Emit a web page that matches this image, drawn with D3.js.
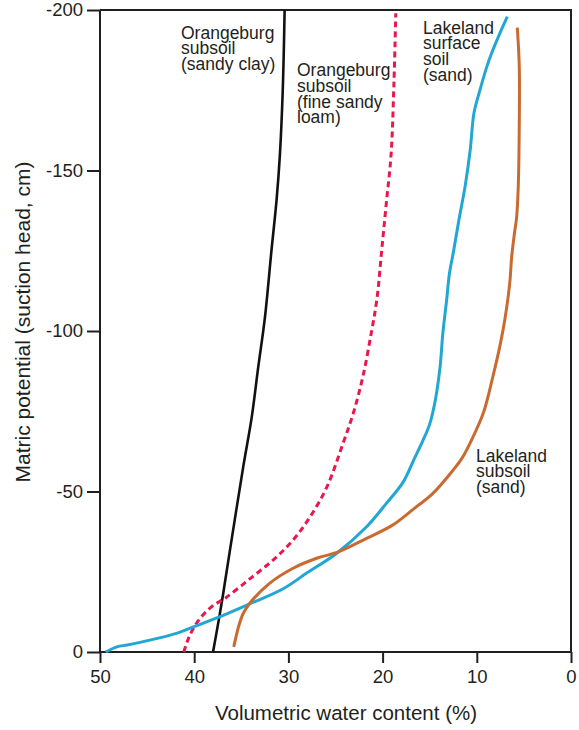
<!DOCTYPE html>
<html>
<head>
<meta charset="utf-8">
<script src="https://cdn.jsdelivr.net/npm/d3@7"></script>
<style>
  html, body { margin: 0; padding: 0; background: #fff; }
  svg { display: block; }
  text { font-family: "Liberation Sans", Arial, sans-serif; fill: #231f20; }
</style>
</head>
<body>
<div id="chart"></div>
<script>
// ---- Data (x = volumetric water content %, y = matric potential cm) ----
const xTicks = [50, 40, 30, 20, 10, 0];
const yTicks = [0, -50, -100, -150, -200];

const orangeburgClay = [
  [38.0, 0], [37.1, -15], [36.2, -31.8], [34.8, -57.6], [33.9, -73], [33.2, -88.8],
  [32.5, -104], [31.8, -125], [31.25, -141], [30.9, -155], [30.6, -175], [30.4, -200]
];
const orangeburgLoam = [
  [41.1, 0], [40.5, -5], [39.5, -10], [38.2, -14], [36.6, -17], [34.0, -23],
  [31.6, -28.7], [29.5, -34.9], [27.7, -42.1], [25.9, -51.5], [24.2, -65],
  [23.1, -74.5], [22.1, -85.7], [21.2, -99.4], [20.6, -110], [20.1, -125],
  [19.6, -140], [19.1, -155], [18.8, -177], [18.6, -199]
];
const lakelandSurface = [
  [49.4, 0], [48.2, -1.6], [47.1, -2.2], [44.7, -3.7], [41.8, -5.9], [40.1, -7.8],
  [37.6, -10.6], [34.1, -15], [30.5, -19.8], [28.1, -24.5], [24.9, -30.7],
  [21.7, -39], [19.6, -46.3], [17.8, -53], [16.7, -59.8], [15.7, -66], [15.0, -71],
  [14.4, -78.5], [13.9, -88.8], [13.6, -99.4], [13.2, -109.7], [12.9, -118],
  [12.5, -124.3], [11.9, -134.6], [11.25, -144.9], [10.7, -156.4], [10.3, -167.9],
  [9.66, -175.1], [8.95, -182.2], [8.42, -186.6], [7.54, -192.8], [6.76, -197.9]
];
const lakelandSubsoil = [
  [35.8, -1.6], [35.3, -7.8], [34.8, -12], [34.1, -15.2], [32.0, -21.4],
  [29.5, -26.1], [27.0, -29.2], [24.7, -31.2], [21.7, -35.4], [18.9, -39.6],
  [16.4, -45.3], [14.8, -49], [12.5, -56.7], [11.5, -60.7], [10.4, -67],
  [9.3, -74.5], [8.3, -85.7], [7.5, -96], [7.0, -104], [6.5, -115], [6.3, -123],
  [6.0, -130.5], [5.77, -135.5], [5.6, -145], [5.5, -161.7], [5.49, -182.2],
  [5.7, -194.5]
];

const seriesLabels = [
  { lines: ["Orangeburg", "subsoil", "(sandy clay)"], x: 181, y: 38.5 },
  { lines: ["Orangeburg", "subsoil", "(fine sandy", "loam)"], x: 297, y: 76 },
  { lines: ["Lakeland", "surface", "soil", "(sand)"], x: 423, y: 33.5 },
  { lines: ["Lakeland", "subsoil", "(sand)"], x: 476, y: 461.5 }
];

// ---- Layout ----
const W = 579, H = 730;
const svg = d3.select("#chart").append("svg").attr("width", W).attr("height", H);

const x = d3.scaleLinear().domain([50, 0]).range([100, 571]);
const y = d3.scaleLinear().domain([0, -200]).range([652, 10]);

const axisColor = "#231f20";

// Frame (top and right)
svg.append("path")
  .attr("d", `M${x(50)},${y(-200)}H${x(0)}V${y(0)}`)
  .attr("fill", "none").attr("stroke", axisColor).attr("stroke-width", 2);

// Y axis
const gy = svg.append("g").attr("transform", `translate(${x(50)},0)`)
  .call(d3.axisLeft(y).tickValues(yTicks).tickSize(13).tickPadding(4).tickSizeOuter(0)
    .tickFormat(d => String(d)));
// X axis
const gx = svg.append("g").attr("transform", `translate(0,${y(0)})`)
  .call(d3.axisBottom(x).tickValues(xTicks).tickSize(11).tickPadding(7).tickSizeOuter(0)
    .tickFormat(d => String(d)));

[gy, gx].forEach(g => {
  g.selectAll("path.domain").attr("stroke", axisColor).attr("stroke-width", 2);
  g.selectAll(".tick line").attr("stroke", axisColor).attr("stroke-width", 2);
  g.selectAll(".tick text").attr("font-size", 18.5).attr("fill", axisColor);
});
gy.select("path.domain").attr("d", `M0,${y(0)}V${y(-200)}`);
gx.select("path.domain").attr("d", `M${x(50)},0H${x(0)}`);

// Axis titles
svg.append("text")
  .attr("x", 346).attr("y", 720)
  .attr("text-anchor", "middle").attr("font-size", 20.5)
  .text("Volumetric water content (%)");
svg.append("text")
  .attr("transform", `translate(30,${322}) rotate(-90)`)
  .attr("text-anchor", "middle").attr("font-size", 21)
  .text("Matric potential (suction head, cm)");

// Curves
const line = d3.line().x(d => x(d[0])).y(d => y(d[1])).curve(d3.curveCatmullRom.alpha(0.5));

const series = [
  { data: orangeburgClay, color: "#111111", width: 2.6, dash: null },
  { data: orangeburgLoam, color: "#e8184f", width: 3, dash: "6,4" },
  { data: lakelandSurface, color: "#22a6d4", width: 3, dash: null },
  { data: lakelandSubsoil, color: "#c96b31", width: 3, dash: null }
];
svg.append("g").selectAll("path").data(series).join("path")
  .attr("d", d => line(d.data))
  .attr("fill", "none")
  .attr("stroke", d => d.color)
  .attr("stroke-width", d => d.width)
  .attr("stroke-dasharray", d => d.dash)
  .attr("stroke-linejoin", "round");

// Series labels
const lg = svg.append("g");
seriesLabels.forEach(l => {
  const t = lg.append("text").attr("font-size", 17.5).attr("fill", axisColor);
  l.lines.forEach((s, i) => {
    t.append("tspan").attr("x", l.x).attr("y", l.y + i * 15.8).text(s);
  });
});
</script>
</body>
</html>
